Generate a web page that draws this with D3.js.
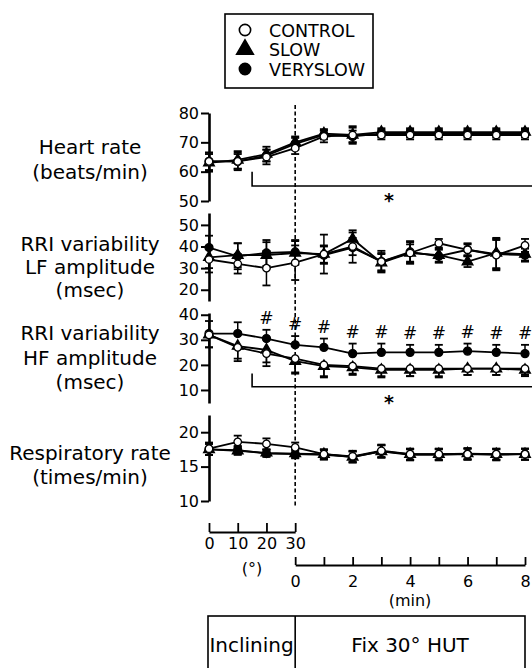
<!DOCTYPE html>
<html><head><meta charset="utf-8">
<script src="https://cdn.jsdelivr.net/npm/d3@7"></script>
<style>
body{margin:0;background:#fff}
svg text{font-family:"DejaVu Sans",Verdana,sans-serif;fill:#000}
</style>
</head><body>
<svg id="c" width="532" height="668"></svg>
<script>
// ---------- DATA ----------
const timePoints = ["0°","10°","20°","30°","1","2","3","4","5","6","7","8"];
const degTicks = [0,10,20,30];
const minTicks = [0,1,2,3,4,5,6,7,8];
const minTickLabels = [0,2,4,6,8];
const seriesNames = ["CONTROL","SLOW","VERYSLOW"];

// Heart rate (beats/min)
const hrTicks = [50,60,70,80];
const hrControl   = [63.5,63.5,65,68,72,72.5,72.5,72.5,72.5,72.5,72.5,72.5];
const hrSlow      = [63,64,66,70,73,72.5,73.5,73.5,73.5,73.5,73.5,73.5];
const hrVeryslow  = [63.5,63.5,65.5,69.5,72.5,72,73,73,73,73,73,73];
const hrControlSE = [3,3,2.5,2,2,3,1.5,1.5,1.5,1.5,1.5,1.5];
const hrSlowSE    = [3,3,2.5,2,1.5,2.5,1.3,1.3,1.3,1.3,1.3,1.3];
const hrVeryslowSE= [3,2.5,2,2,1.5,2,1.3,1.3,1.3,1.3,1.3,1.3];

// RRI variability LF amplitude (msec)
const lfTicks = [20,30,40,50];
const lfControl   = [34,32,30,32.5,36.5,40,33,37,41.5,38.5,36,40.5];
const lfSlow      = [35,36,36,37,36.5,43.5,32.5,37,36,33,37,36.5];
const lfVeryslow  = [39.5,35.5,37,37.5,36,39.5,33,37.5,35.5,38.5,36.5,36];
const lfControlSE = [6,4.5,8,8,9,4,4,4,2,3,7,3];
const lfSlowSE    = [5,5.5,6,5.5,4,4,4,5,3,2.5,7,3];
const lfVeryslowSE= [5.5,6,6,5.5,4,7,5,5,3,2.5,7,3];

// RRI variability HF amplitude (msec)
const hfTicks = [10,20,30,40];
const hfControl   = [32,27,24.5,22.5,20,19.5,18.5,18.5,18.5,18.5,18.5,18.5];
const hfSlow      = [32,27.5,26,21.5,19.5,19,18,18,18,18.5,18.5,18];
const hfVeryslow  = [32.5,32.5,30.5,28,27,24.5,25,25,25,25.5,25,24.5];
const hfControlSE = [5,5.5,5,5.5,4.5,3,3,3,3,2.5,2.5,2.5];
const hfSlowSE    = [5,5,5,5,4.5,3,3,2.5,3,2.5,2.5,2.5];
const hfVeryslowSE= [5,4.5,3.5,3.5,3.5,4,3.5,3,3,3,3,3.5];
const hfSigPoints = ["20°","30°","1","2","3","4","5","6","7","8"];

// Respiratory rate (times/min)
const rrTicks = [10,15,20];
const rrControl   = [17.6,18.6,18.3,17.8,16.8,16.5,17.3,16.8,16.8,16.8,16.8,16.8];
const rrSlow      = [17.5,17.3,17.0,16.9,16.8,16.4,17.2,16.8,16.8,16.9,16.8,16.8];
const rrVeryslow  = [17.5,17.4,16.9,16.8,16.7,16.4,17.2,16.7,16.7,16.8,16.7,16.8];
const rrControlSE = [0.9,0.9,0.8,0.7,0.7,0.8,0.9,0.8,0.8,0.8,0.8,0.8];
const rrSlowSE    = [0.8,0.6,0.5,0.6,0.7,0.8,0.9,0.8,0.8,0.8,0.8,0.8];
const rrVeryslowSE= [0.8,0.6,0.5,0.6,0.7,0.8,0.9,0.8,0.8,0.8,0.8,0.8];

// ---------- LAYOUT ----------
const svg = d3.select("#c");
const FONT_LABEL = 20, FONT_TICK = 16;
const FAMILY = "DejaVu Sans, Verdana, sans-serif";
const x = d3.scalePoint().domain(timePoints).range([209, 525]);
const xDeg = d3.scaleLinear().domain([0,30]).range([x("0°"), x("30°")]);
const xMin = d3.scaleLinear().domain([0,8]).range([x("30°"), x("8")]);

const panels = [
  {lines:["Heart rate","(beats/min)"], lineY:[147,172], domain:[50,80], range:[201,113], ticks:hrTicks,
   series:[[hrControl,hrControlSE,"both"],[hrSlow,hrSlowSE,"both"],[hrVeryslow,hrVeryslowSE,"both"]],
   bracket:[60,55.1], star:51.4},
  {lines:["RRI variability","LF amplitude","(msec)"], lineY:[244,267,290], domain:[14.8,55.5], range:[301,213], ticks:lfTicks,
   series:[[lfControl,lfControlSE,"both"],[lfSlow,lfSlowSE,"both"],[lfVeryslow,lfVeryslowSE,"both"]]},
  {lines:["RRI variability","HF amplitude","(msec)"], lineY:[333,358,382], domain:[4.8,40.7], range:[403,313], ticks:hfTicks,
   series:[[hfControl,hfControlSE,"down"],[hfSlow,hfSlowSE,"down"],[hfVeryslow,hfVeryslowSE,"up"]],
   bracket:[16.6,11.3], star:6.4, sig:hfSigPoints},
  {lines:["Respiratory rate","(times/min)"], lineY:[453,477], domain:[10,22.5], range:[501,415], ticks:rrTicks,
   series:[[rrControl,rrControlSE,"both"],[rrSlow,rrSlowSE,"both"],[rrVeryslow,rrVeryslowSE,"both"]]}
];

const symTypes = [d3.symbolCircle, d3.symbolTriangle, d3.symbolCircle];
const symFill = ["#fff","#000","#000"];
const symSize = [44, 50, 50];

// dashed vertical line
svg.append("line").attr("x1",x("30°")).attr("x2",x("30°")).attr("y1",105).attr("y2",507)
  .attr("stroke","#000").attr("stroke-width",1.6).attr("stroke-dasharray","4,2.5");

panels.forEach(p => {
  const y = d3.scaleLinear().domain(p.domain).range(p.range);
  p.lines.forEach((t,i)=>{
    svg.append("text").attr("x",90).attr("y",p.lineY[i]+7).attr("text-anchor","middle")
      .attr("font-size",FONT_LABEL).text(t);
  });
  const g = svg.append("g").attr("transform",`translate(${x("0°")},0)`)
    .call(d3.axisLeft(y).tickValues(p.ticks).tickSize(8).tickSizeOuter(0).tickPadding(2));
  g.select(".domain").attr("stroke-width",2.6);
  g.selectAll(".tick line").attr("stroke-width",2);
  g.selectAll(".tick text").attr("font-size",FONT_TICK).attr("font-family",FAMILY);

  if (p.bracket) {
    const bx = (x("10°")+x("20°"))/2;
    svg.append("path").attr("d",`M${bx},${y(p.bracket[0])}V${y(p.bracket[1])}H${532}`)
      .attr("fill","none").attr("stroke","#000").attr("stroke-width",1.6);
    svg.append("text").attr("x",(bx+532)/2 - 3).attr("y",y(p.star)+10).attr("text-anchor","middle")
      .attr("font-size",19).attr("font-weight","bold").text("*");
  }

  const line = d3.line().x((d,i)=>x(timePoints[i])).y(d=>y(d));
  p.series.forEach(s=>{
    svg.append("path").datum(s[0]).attr("d",line).attr("fill","none")
      .attr("stroke","#000").attr("stroke-width",1.8);
  });
  p.series.forEach(s=>{
    const [vals,se,dir] = s;
    vals.forEach((v,i)=>{
      const cx = x(timePoints[i]);
      const top = dir==="down" ? v : v+se[i];
      const bot = dir==="up" ? v : v-se[i];
      svg.append("line").attr("x1",cx).attr("x2",cx).attr("y1",y(top)).attr("y2",y(bot))
        .attr("stroke","#000").attr("stroke-width",1.5);
      if (dir!=="down") svg.append("line").attr("x1",cx-4).attr("x2",cx+4).attr("y1",y(top)).attr("y2",y(top))
        .attr("stroke","#000").attr("stroke-width",1.8);
      if (dir!=="up") svg.append("line").attr("x1",cx-4).attr("x2",cx+4).attr("y1",y(bot)).attr("y2",y(bot))
        .attr("stroke","#000").attr("stroke-width",1.8);
    });
  });
  [2,1,0].forEach(k=>{
    const vals = p.series[k][0];
    vals.forEach((v,i)=>{
      svg.append("path").attr("d",d3.symbol().type(symTypes[k]).size(symSize[k])())
        .attr("transform",`translate(${x(timePoints[i])},${y(v)})`)
        .attr("fill",symFill[k]).attr("stroke","#000").attr("stroke-width",1.3);
    });
  });
  if (p.sig) {
    const vs = p.series[2];
    p.sig.forEach(tp=>{
      const i = timePoints.indexOf(tp);
      svg.append("text").attr("x",x(tp)).attr("y",y(vs[0][i]+vs[1][i])-6)
        .attr("text-anchor","middle").attr("font-size",17).text("#");
    });
  }
});

// bottom axes
const gDeg = svg.append("g").attr("transform","translate(0,532)")
  .call(d3.axisBottom(xDeg).tickValues(degTicks).tickSize(-9).tickSizeOuter(0).tickPadding(6));
const gMin = svg.append("g").attr("transform","translate(0,565)")
  .call(d3.axisBottom(xMin).tickValues(minTicks).tickSize(-8).tickSizeOuter(0).tickPadding(11)
    .tickFormat(d=>minTickLabels.includes(d)?d:""));
[gDeg,gMin].forEach(g=>{
  g.select(".domain").attr("stroke-width",1.8);
  g.selectAll(".tick line").attr("stroke-width",1.8);
  g.selectAll(".tick text").attr("font-size",FONT_TICK).attr("font-family",FAMILY);
});
svg.append("text").attr("x",252).attr("y",574).attr("text-anchor","middle").attr("font-size",FONT_TICK).text("(°)");
svg.append("text").attr("x",410).attr("y",606).attr("text-anchor","middle").attr("font-size",FONT_TICK).text("(min)");

// phase box
svg.append("rect").attr("x",208).attr("y",616).attr("width",317).attr("height",70)
  .attr("fill","none").attr("stroke","#000").attr("stroke-width",1.6);
svg.append("line").attr("x1",x("30°")).attr("x2",x("30°")).attr("y1",616).attr("y2",690)
  .attr("stroke","#000").attr("stroke-width",1.6);
svg.append("text").attr("x",(208+x("30°"))/2).attr("y",652).attr("text-anchor","middle")
  .attr("font-size",FONT_LABEL).text("Inclining");
svg.append("text").attr("x",(x("30°")+525)/2).attr("y",652).attr("text-anchor","middle")
  .attr("font-size",FONT_LABEL).text("Fix 30° HUT");

// legend
svg.append("rect").attr("x",225).attr("y",14).attr("width",148).attr("height",74)
  .attr("fill","#fff").attr("stroke","#000").attr("stroke-width",1.6);
const legY = [30,49.5,69];
seriesNames.forEach((n,k)=>{
  svg.append("path").attr("d",d3.symbol().type(symTypes[k]).size(k===1?120:100)())
    .attr("transform",`translate(245,${legY[k]})`).attr("fill",symFill[k]).attr("stroke","#000").attr("stroke-width",1.6);
  svg.append("text").attr("x",269).attr("y",legY[k]+6.5).attr("font-size",17.5).text(n);
});
</script>
</body></html>
